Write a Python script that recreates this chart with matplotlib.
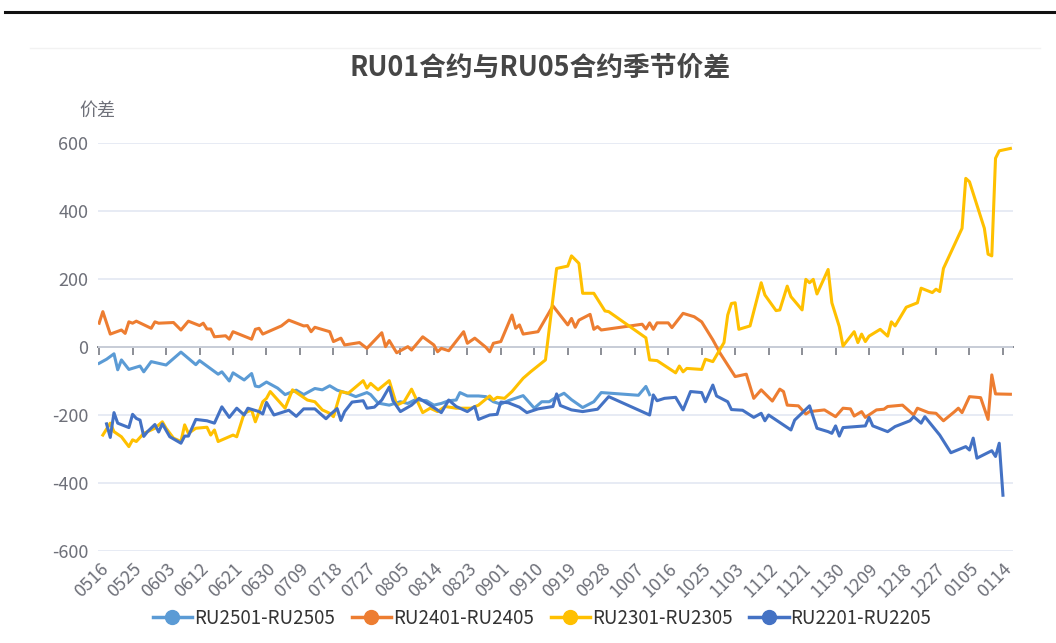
import matplotlib.pyplot as plt
from matplotlib.lines import Line2D

plt.rcParams['font.family'] = ['Noto Sans CJK SC', 'DejaVu Sans']
plt.rcParams['axes.unicode_minus'] = False

title = 'RU01合约与RU05合约季节价差'
y_name = '价差'

# x axis: calendar days counted from 0516, a label every 9 days
tick_days = list(range(0, 244, 9))
tick_labels = ['0516', '0525', '0603', '0612', '0621', '0630', '0709', '0718', '0727',
               '0805', '0814', '0823', '0901', '0910', '0919', '0928', '1007', '1016',
               '1025', '1103', '1112', '1121', '1130', '1209', '1218', '1227', '0105', '0114']

ru2501_day = [0, 2, 4, 5, 6, 8, 11, 12, 14, 18, 22, 26, 27, 32, 33, 35, 36, 39, 41, 42,
              43, 45, 48, 50, 53, 55, 58, 60, 62, 64, 67, 69, 72, 73, 75, 78, 81, 83, 85, 88,
              90, 92, 94, 96, 97, 99, 102, 104, 106, 108, 110, 114, 117, 119, 121, 123, 125, 127, 130, 133,
              135, 145, 147, 148]
ru2501_val = [-48, -36, -20, -67, -38, -66, -56, -73, -43, -53, -15, -52, -40, -80, -73, -100, -76, -97, -78, -115,
              -117, -103, -121, -140, -127, -140, -122, -126, -114, -127, -137, -146, -134, -140, -165, -171, -161, -166, -155, -158,
              -171, -166, -158, -156, -134, -144, -144, -146, -161, -168, -158, -143, -180, -161, -161, -147, -136, -155, -178, -161,
              -134, -142, -116, -140]

ru2401_day = [0, 1, 3, 6, 7, 8, 9, 10, 14, 15, 16, 20, 22, 24, 27, 28, 29, 30, 31, 34,
              35, 36, 41, 42, 43, 44, 49, 51, 55, 56, 57, 58, 62, 63, 65, 66, 70, 72, 76, 77,
              78, 80, 83, 84, 87, 90, 91, 92, 94, 98, 99, 101, 104, 105, 106, 108, 111, 112, 113, 114,
              118, 122, 126, 127, 128, 129, 132, 133, 134, 135, 146, 147, 148, 149, 150, 153, 154, 157, 160, 162,
              165, 167, 171, 174, 176, 178, 181, 183, 184, 185, 188, 190, 191, 195, 198, 200, 202, 203, 205, 206,
              209, 211, 212, 216, 219, 220, 223, 225, 227, 230, 231, 232, 234, 237, 239, 240, 241, 245]
ru2401_val = [70, 104, 38, 50, 40, 74, 70, 76, 55, 74, 70, 72, 50, 76, 63, 70, 53, 53, 30, 33,
              23, 45, 23, 52, 55, 38, 62, 79, 62, 63, 45, 58, 45, 16, 26, 6, 13, -4, 42, 1,
              19, -17, 1, -9, 30, 6, -14, -4, -11, 45, 11, 26, -1, -14, 11, 16, 94, 55, 65, 38,
              45, 121, 65, 84, 58, 79, 96, 52, 60, 50, 67, 53, 71, 52, 71, 71, 57, 99, 89, 74,
              21, -19, -87, -80, -151, -126, -159, -124, -131, -171, -173, -197, -190, -185, -205, -180, -182, -203, -190, -207,
              -185, -183, -175, -171, -200, -180, -193, -195, -217, -190, -180, -193, -146, -149, -213, -82, -138, -139]

ru2301_day = [1, 3, 4, 6, 8, 9, 10, 12, 15, 17, 18, 20, 22, 23, 24, 26, 29, 30, 31, 32,
              36, 37, 39, 41, 42, 44, 45, 46, 50, 52, 56, 58, 60, 62, 63, 65, 67, 71, 72, 73,
              75, 78, 80, 82, 84, 87, 89, 91, 93, 96, 100, 102, 105, 106, 107, 109, 111, 114, 116, 120,
              123, 126, 127, 129, 130, 133, 136, 137, 147, 148, 150, 155, 156, 157, 158, 162, 163, 165, 168, 169,
              170, 171, 172, 175, 178, 179, 182, 183, 185, 186, 189, 190, 191, 192, 193, 196, 197, 199, 200, 203,
              204, 205, 206, 207, 210, 212, 213, 214, 217, 220, 221, 224, 225, 226, 227, 232, 233, 234, 238, 239,
              240, 241, 242, 245]
ru2301_val = [-259, -224, -249, -264, -293, -273, -278, -254, -239, -220, -239, -268, -278, -229, -254, -239, -236, -259, -244, -278,
              -259, -264, -195, -185, -220, -161, -151, -131, -180, -126, -156, -161, -185, -195, -205, -131, -136, -99, -121, -107,
              -126, -99, -171, -161, -124, -193, -180, -190, -175, -180, -180, -171, -144, -156, -148, -151, -131, -92, -73, -38,
              231, 238, 268, 246, 158, 158, 106, 104, 27, -38, -40, -76, -56, -73, -63, -66, -36, -43, 13, 94,
              128, 130, 52, 62, 189, 153, 107, 109, 179, 148, 109, 199, 189, 199, 156, 228, 130, 60, 3, 45,
              13, 38, 16, 32, 52, 32, 74, 62, 117, 130, 173, 160, 170, 163, 231, 349, 496, 486, 349, 273,
              268, 555, 577, 584]

ru2201_day = [2, 3, 4, 5, 8, 9, 10, 11, 12, 13, 15, 16, 17, 19, 22, 23, 24, 26, 29, 31,
              33, 35, 37, 39, 40, 43, 44, 45, 47, 51, 53, 55, 58, 61, 62, 64, 65, 66, 68, 71,
              72, 74, 76, 78, 79, 81, 84, 86, 89, 92, 94, 96, 99, 101, 102, 105, 107, 108, 110, 113,
              115, 118, 122, 123, 124, 127, 130, 134, 137, 148, 149, 150, 152, 155, 157, 159, 162, 163, 165, 166,
              169, 170, 173, 176, 178, 179, 180, 183, 186, 187, 191, 193, 196, 197, 198, 199, 200, 206, 207, 208,
              212, 214, 218, 219, 221, 222, 226, 229, 233, 234, 235, 236, 240, 241, 242, 243]
ru2201_val = [-226, -266, -193, -224, -237, -198, -210, -215, -263, -249, -228, -250, -226, -264, -283, -262, -262, -213, -217, -224,
              -176, -207, -180, -200, -180, -190, -197, -163, -200, -186, -204, -182, -182, -211, -200, -181, -216, -190, -162, -158,
              -180, -177, -156, -118, -158, -190, -171, -151, -171, -193, -156, -175, -190, -175, -213, -200, -198, -162, -164, -177,
              -193, -182, -175, -138, -172, -185, -190, -183, -146, -200, -141, -158, -151, -148, -185, -131, -134, -161, -112, -144,
              -161, -184, -186, -207, -195, -217, -200, -222, -244, -215, -173, -239, -249, -254, -232, -262, -237, -232, -207, -232,
              -249, -234, -217, -205, -224, -205, -259, -311, -293, -303, -268, -327, -305, -322, -283, -436]

series = [
    ('RU2501-RU2505', ru2501_day, ru2501_val, '#5B9BD5'),
    ('RU2401-RU2405', ru2401_day, ru2401_val, '#ED7D31'),
    ('RU2301-RU2305', ru2301_day, ru2301_val, '#FFC000'),
    ('RU2201-RU2205', ru2201_day, ru2201_val, '#4472C4'),
]

axis_grey = '#6E7079'
W, H = 1056, 643

fig = plt.figure(figsize=(W / 100, H / 100), dpi=100)
ax = fig.add_axes([98 / W, 1 - 551 / H, (1013 - 98) / W, (551 - 143) / H])

for name, days, vals, color in series:
    ax.plot(days, vals, color=color, lw=2.2, label=name, solid_joinstyle='round', zorder=3)

ax.set_xlim(-0.3, 245.7)
ax.set_ylim(-600, 600)
ax.set_yticks([-600, -400, -200, 0, 200, 400, 600])
ax.grid(axis='y', color='#E0E6F1', lw=1.1, zorder=0)
ax.tick_params(axis='y', length=0, pad=7, labelsize=13, labelcolor=axis_grey)
ax.set_xticks(tick_days)
ax.set_xticklabels(tick_labels, rotation=45, ha='right', rotation_mode='anchor')
ax.tick_params(axis='x', length=0, pad=6, labelsize=13, labelcolor=axis_grey)
for s in ax.spines.values():
    s.set_visible(False)

# axis line with ticks sits on zero, ticks hang below it
zero_ax = ax.secondary_xaxis(0.5)
zero_ax.set_xticks(tick_days)
zero_ax.set_xticklabels([])
zero_ax.tick_params(axis='x', direction='in', length=6, width=1.1, color=axis_grey,
                    labeltop=False, labelbottom=False)
for s in zero_ax.spines.values():
    s.set_color(axis_grey)
    s.set_linewidth(1.3)

fig.text(540 / W, 1 - 68 / H, title, ha='center', va='center', fontsize=19.3,
         fontweight='bold', color='#464646')
fig.text(97 / W, 1 - 111 / H, y_name, ha='center', va='center', fontsize=13, color=axis_grey)

# frame lines of the screenshot
fig.add_artist(Line2D([5 / W, 1], [1 - 12 / H, 1 - 12 / H], color='#111111', lw=2.2))
fig.add_artist(Line2D([30 / W, 1040 / W], [1 - 48 / H, 1 - 48 / H], color='#F2F2F2', lw=1))

handles = [Line2D([], [], color=c, lw=2.5, marker='o', markersize=10) for _, _, _, c in series]
fig.legend(handles, [s[0] for s in series], loc='center', bbox_to_anchor=(542 / W, 1 - 618 / H),
           ncol=4, frameon=False, fontsize=13.5, handlelength=2.1, handletextpad=0.1,
           columnspacing=0.9, labelcolor='#333333')

fig.savefig('out.png', dpi=100)
